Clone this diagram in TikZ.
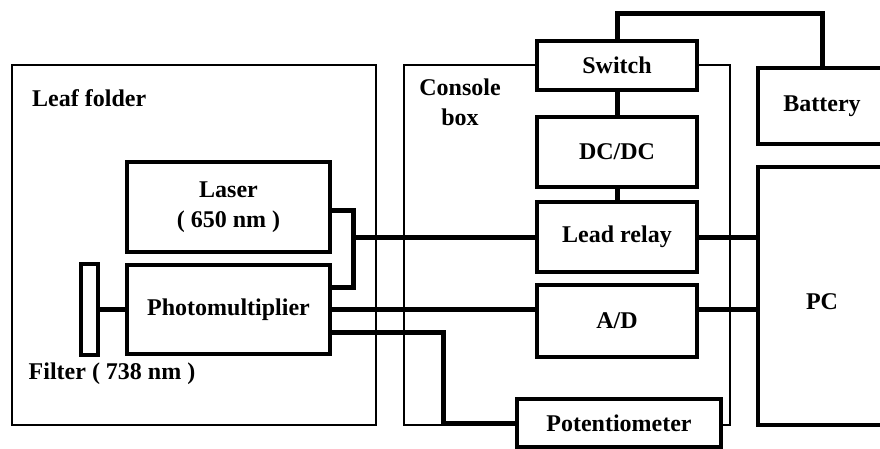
\documentclass[tikz,border=0pt]{standalone}
\usepackage{fontspec}
\setmainfont{Liberation Serif}
\pgfdeclarelayer{bg}
\pgfdeclarelayer{mid}
\pgfsetlayers{bg,mid,main}
\tikzset{
  every node/.style={font=\fontsize{24}{30}\selectfont\bfseries, inner sep=0pt},
  container/.style={draw, line width=1.5pt, rectangle},
  blk/.style={draw, line width=3.6pt, fill=white, rectangle, align=center},
  wire/.style={line width=5pt}
}
\begin{document}
\begin{tikzpicture}[x=1pt,y=-1pt]
\useasboundingbox (0,0) rectangle (880,448);
\clip (0,0) rectangle (880,448);
% blocks
\node[blk, minimum width=203pt, minimum height=90pt] (laser) at (228.5,207) {Laser\\( 650 nm )};
\node[blk, minimum width=203pt, minimum height=89pt] (pm) at (228.5,309.5) {Photomultiplier};
\node[blk, minimum width=17pt, minimum height=91pt] (filter) at (89.5,309.5) {};
\node[blk, minimum width=160pt, minimum height=49pt] (sw) at (617,65.5) {Switch};
\node[blk, minimum width=160pt, minimum height=70pt] (dc) at (617,152) {DC/DC};
\node[blk, minimum width=160pt, minimum height=70pt] (relay) at (617,237) {Lead relay};
\node[blk, minimum width=160pt, minimum height=72pt] (ad) at (617,321) {A/D};
\node[blk, minimum width=204pt, minimum height=48pt] (pot) at (619,423) {Potentiometer};
\node[blk, minimum width=128pt, minimum height=76pt] (bat) at (822,106) {Battery};
\node[blk, minimum width=128pt, minimum height=258pt,
      label={[yshift=-6pt]center:PC}] (pc) at (822,296) {};
% labels
\node[anchor=west] (leaflbl) at (32,98) {Leaf folder};
\node[align=center] (conslbl) at (460,102) {Console\\box};
\node (filtlbl) at (112,374) {Filter ( 738 nm )};
% containers
\begin{pgfonlayer}{bg}
\node[container, minimum width=364pt, minimum height=360pt] (leaf) at (194,245) {};
\node[container, minimum width=326pt, minimum height=360pt] (console) at (567,245) {};
\end{pgfonlayer}
% connectors
\begin{pgfonlayer}{mid}
\coordinate (j1) at (353,210);
\coordinate (j2) at (353,287);
\coordinate (k1) at (443,332);
\coordinate (t1) at (617,13);
\draw[wire] (filter.east) -- (pm.west);
\draw[wire] (laser.east |- j1) -- (j1) -- (j2) -- (pm.east |- j2);
\draw[wire] (j1 |- relay.west) -- (relay.west);
\draw[wire] (pm.east) -- (pm.east -| ad.west);
\draw[wire] (pm.east |- k1) -- (k1) -- (k1 |- pot.west) -- (pot.west);
\draw[wire] (ad.east |- pm.east) -- (pc.west |- pm.east);
\draw[wire] (relay.east) -- (pc.west |- relay.east);
\draw[wire] (sw.south) -- (dc.north);
\draw[wire] (dc.south) -- (relay.north);
\draw[wire] (sw.north) -- (t1) -- (bat.north |- t1) -- (bat.north);
\end{pgfonlayer}
\end{tikzpicture}
\end{document}
